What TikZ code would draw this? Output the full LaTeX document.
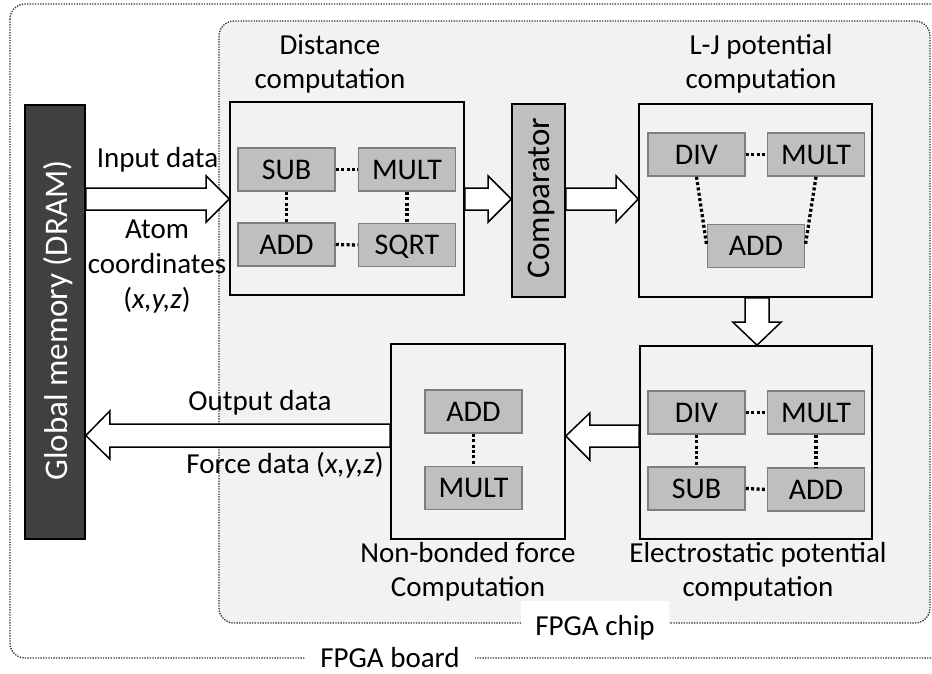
\documentclass[tikz,border=0pt]{standalone}
\usepackage{fontspec}
\setmainfont{Carlito}
\usetikzlibrary{calc}
\definecolor{chipfill}{HTML}{F2F2F2}
\definecolor{unitfill}{HTML}{BFBFBF}
\definecolor{unitline}{HTML}{7F7F7F}
\definecolor{memfill}{HTML}{404040}
\definecolor{dotline}{HTML}{303030}
\begin{document}
\begin{tikzpicture}[x=1pt,y=-1pt,
  txt/.style={font=\fontsize{29}{34}\selectfont, inner sep=0pt},
  boundary/.style={draw=dotline, line width=1.3pt, dash pattern=on 1.3pt off 1.3pt, rounded corners=15pt},
  bigbox/.style={draw=black, line width=1.6pt, fill=chipfill, inner sep=0pt},
  unitbox/.style={draw=unitline, line width=1.5pt, fill=unitfill, minimum width=97pt, minimum height=43pt,
    inner sep=0pt, text height=19.3pt, text depth=0pt, font=\fontsize{30}{34}\selectfont},
  link/.style={line width=3.3pt, dash pattern=on 3pt off 2.4pt},
  barrow/.style={draw=black, line width=1.5pt, fill=white, line join=miter},
  tag/.style={fill=white, font=\fontsize{29}{34}\selectfont, text height=19pt, text depth=0pt}
]
\useasboundingbox (0,0) rectangle (932,673);

% FPGA chip region and board
\draw[boundary, fill=chipfill] (219,21) rectangle (930,623);
\draw[boundary] (10,4) rectangle (945,658);
\node[tag, inner xsep=14pt, inner ysep=15pt] (chiptag) at (595,625.5) {FPGA chip};
\node[tag, inner xsep=15pt, inner ysep=4pt] (boardtag) at (390,657.5) {FPGA board};

% main blocks
\node[bigbox, minimum width=60pt, minimum height=434pt, fill=memfill] (mem) at (55,322) {};
\node[font=\fontsize{33}{40}\selectfont, text=white, rotate=90, anchor=base, inner sep=0pt] (memtxt) at (67,320.5) {Global memory (DRAM)};

\node[bigbox, minimum width=234pt, minimum height=193pt] (dist) at (347,198.5) {};
\node[bigbox, minimum width=53pt, minimum height=193pt, fill=unitfill] (comp) at (538.5,200.5) {};
\node[font=\fontsize{33}{40}\selectfont, rotate=90, anchor=base, inner sep=0pt] (comptxt) at (549,198) {Comparator};
\node[bigbox, minimum width=233pt, minimum height=193pt] (lj) at (755.5,200.5) {};
\node[bigbox, minimum width=232pt, minimum height=193pt] (elec) at (756,442.5) {};
\node[bigbox, minimum width=174pt, minimum height=195pt] (nb) at (478,441.5) {};

% distance units
\node[unitbox] (dsub) at (286.5,169.5) {SUB};
\node[unitbox] (dmult) at (407,169.5) {MULT};
\node[unitbox] (dadd) at (286.5,244.5) {ADD};
\node[unitbox] (dsqrt) at (407,245) {SQRT};
\draw[link] (dsub.east) -- (dmult.west);
\draw[link] (dadd.east) -- (dsqrt.west);
\draw[link] (dsub.south) -- (dadd.north);
\draw[link] (dmult.south) -- (dsqrt.north);

% L-J units
\node[unitbox] (ldiv) at (696.5,154.5) {DIV};
\node[unitbox] (lmult) at (816,154.5) {MULT};
\node[unitbox] (ladd) at (756,246) {ADD};
\draw[link] (ldiv.east) -- (lmult.west);
\draw[link] (ldiv.south) -- (ladd.west);
\draw[link] (lmult.south) -- (ladd.east);

% electrostatic units
\node[unitbox] (ediv) at (696.5,412.5) {DIV};
\node[unitbox] (emult) at (816,412.5) {MULT};
\node[unitbox] (esub) at (696.5,488.5) {SUB};
\node[unitbox] (eadd) at (816,489.5) {ADD};
\draw[link] (ediv.east) -- (emult.west);
\draw[link] (esub.east) -- (eadd.west);
\draw[link] (ediv.south) -- (esub.north);
\draw[link] (emult.south) -- (eadd.north);

% non-bonded units
\node[unitbox] (nadd) at (473.5,411.5) {ADD};
\node[unitbox] (nmult) at (473.5,488) {MULT};
\draw[link] (nadd.south) -- (nmult.north);

% block arrows
\draw[barrow] (mem.east |- 0,188) -- ($(dist.west |- 0,188)+(-23,0)$) -- ($(dist.west |- 0,176)+(-23,0)$)
  -- (dist.west |- 0,199) -- ($(dist.west |- 0,222)+(-23,0)$) -- ($(dist.west |- 0,210)+(-23,0)$)
  -- (mem.east |- 0,210) -- cycle;
\draw[barrow] (dist.east |- 0,188) -- ($(comp.west |- 0,188)+(-23,0)$) -- ($(comp.west |- 0,176)+(-23,0)$)
  -- (comp.west |- 0,199) -- ($(comp.west |- 0,222)+(-23,0)$) -- ($(comp.west |- 0,210)+(-23,0)$)
  -- (dist.east |- 0,210) -- cycle;
\draw[barrow] (comp.east |- 0,188) -- ($(lj.west |- 0,188)+(-22,0)$) -- ($(lj.west |- 0,176)+(-22,0)$)
  -- (lj.west |- 0,199) -- ($(lj.west |- 0,222)+(-22,0)$) -- ($(lj.west |- 0,210)+(-22,0)$)
  -- (comp.east |- 0,210) -- cycle;
\draw[barrow] (745,0 |- lj.south) -- ($(745,0 |- elec.north)+(0,-23)$) -- ($(733,0 |- elec.north)+(0,-23)$)
  -- (757,0 |- elec.north) -- ($(781,0 |- elec.north)+(0,-23)$) -- ($(769,0 |- elec.north)+(0,-23)$)
  -- (769,0 |- lj.south) -- cycle;
\draw[barrow] (elec.west |- 0,425) -- ($(nb.east |- 0,425)+(24,0)$) -- ($(nb.east |- 0,413)+(24,0)$)
  -- (nb.east |- 0,436) -- ($(nb.east |- 0,460)+(24,0)$) -- ($(nb.east |- 0,447)+(24,0)$)
  -- (elec.west |- 0,447) -- cycle;
\draw[barrow] (nb.west |- 0,424) -- ($(mem.east |- 0,424)+(24,0)$) -- ($(mem.east |- 0,411)+(24,0)$)
  -- (mem.east |- 0,435.5) -- ($(mem.east |- 0,459)+(24,0)$) -- ($(mem.east |- 0,447)+(24,0)$)
  -- (nb.west |- 0,447) -- cycle;

% labels
\node[txt, align=center] (disttitle) at (330,64) {Distance\\computation};
\node[txt, align=center] (ljtitle) at (761,64) {L-J potential\\computation};
\node[txt, align=center] (electitle) at (758,572) {Electrostatic potential\\computation};
\node[txt, align=center] (nbtitle) at (468,572) {Non-bonded force\\Computation};
\node[txt, anchor=base] (inlbl) at (157.5,167) {Input data};
\node[txt, align=center, anchor=north, font=\fontsize{29}{35}\selectfont] (atomlbl) at (157,219.5) {Atom\\coordinates\\(\textit{x,y,z})};
\node[txt, anchor=base] (outlbl) at (260,410) {Output data};
\node[txt, anchor=base] (forcelbl) at (285,473) {Force data (\textit{x,y,z})};
\end{tikzpicture}
\end{document}
